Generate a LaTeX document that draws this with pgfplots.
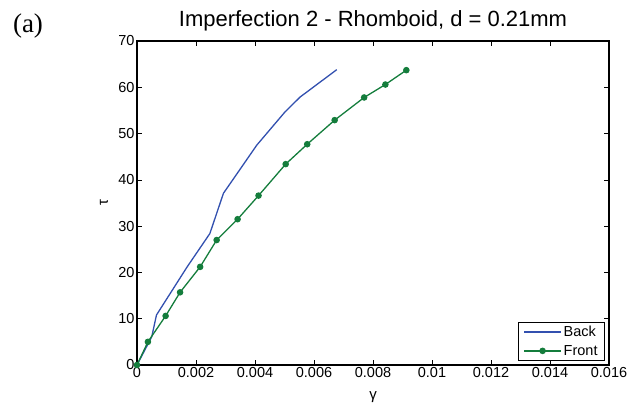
\documentclass[border=0pt]{standalone}
\usepackage{fontspec}
\setmainfont{Liberation Sans}
\newfontfamily\timesfont{Liberation Serif}
\usepackage{pgfplots}
\pgfplotsset{compat=1.18}
\definecolor{mblue}{RGB}{50,80,175}
\definecolor{mgreen}{RGB}{20,125,60}
\begin{document}
\begin{tikzpicture}[x=1pt,y=1pt]
\path (0,0) rectangle (643,405);
\node[font=\timesfont\fontsize{27}{29}\selectfont, inner sep=0pt] at (28,379) {(a)};
\begin{axis}[
  at={(137pt,40pt)}, anchor=south west, scale only axis,
  width=472pt, height=324pt,
  xmin=0, xmax=0.016, ymin=0, ymax=70,
  xtick={0,0.002,0.004,0.006,0.008,0.01,0.012,0.014,0.016},
  ytick={0,10,20,30,40,50,60,70},
  xtick pos=both, ytick pos=both,
  tick align=inside,
  major tick length=5pt,
  scaled x ticks=false,
  /pgf/number format/assume math mode=true,
  tick label style={font=\fontsize{14.5}{16}\selectfont, text=black},
  xticklabel style={yshift=1pt, /pgf/number format/.cd, fixed, precision=3},
  yticklabel style={xshift=1pt},
  axis line style={line width=1.1pt},
  every tick/.style={black, line width=0.7pt},
  xlabel={γ}, ylabel={τ},
  label style={font=\fontsize{15}{17}\selectfont},
  xlabel style={at={(axis description cs:0.5,0)}, anchor=center, yshift=-32pt},
  ylabel style={at={(axis description cs:0,0.5)}, anchor=center, yshift=33pt},
  title={Imperfection 2 - Rhomboid, d = 0.21mm},
  title style={font=\fontsize{22}{24}\selectfont, at={(axis description cs:0.5,1)}, anchor=base, yshift=9pt},
  legend style={at={(0.9915,0.0123)}, anchor=south east, font=\fontsize{14.5}{16}\selectfont,
    draw=black, line width=0.8pt, inner xsep=5pt, inner ysep=2pt, row sep=3pt},
  legend cell align=left,
  legend image code/.code={
    \draw[#1] (0pt,0pt) -- (37pt,0pt);
    \draw[#1, mark repeat=2, mark phase=2] plot coordinates {(0pt,0pt) (18.5pt,0pt) (37pt,0pt)};
  },
]
\addplot[color=mblue, line width=1.3pt, mark=none] coordinates {
(0,0) (0.0005,6.1) (0.00066,10.8) (0.0017,21.2) (0.00247,28.4)
(0.00293,37.1) (0.00355,42.8) (0.00406,47.5) (0.00502,54.7)
(0.00553,57.9) (0.00677,63.8)
};
\addlegendentry{Back}
\addplot[color=mgreen, line width=1.3pt, mark=*, mark size=2.6pt] coordinates {
(0,0) (0.00037,5.0) (0.00097,10.6) (0.00146,15.7) (0.00214,21.2)
(0.0027,27.0) (0.00341,31.5) (0.00412,36.6) (0.00504,43.4)
(0.00577,47.7) (0.0067,52.9) (0.0077,57.8) (0.00842,60.6) (0.00913,63.7)
};
\addlegendentry{Front}
\end{axis}
\end{tikzpicture}
\end{document}
